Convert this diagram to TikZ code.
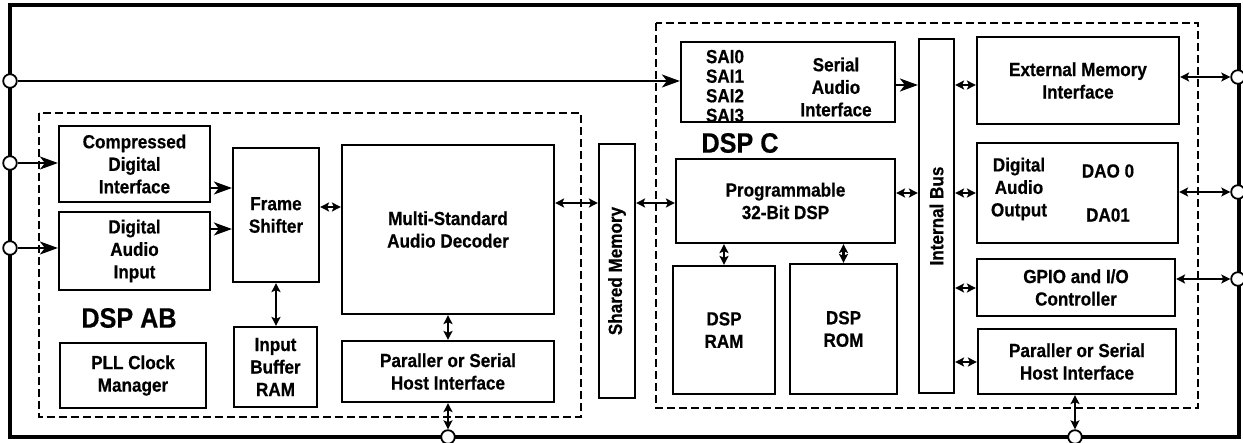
\documentclass[tikz,border=0pt]{standalone}
\usepackage{fontspec}
\usepackage{graphicx}
\setmainfont{Liberation Sans}[FakeStretch=0.9, BoldFeatures={FakeBold=0.5}]
\usetikzlibrary{arrows.meta}

\begin{document}
\begin{tikzpicture}[x=0.5pt, y=-0.5pt,
  blk/.style={draw, rectangle, line width=1.1pt, inner sep=0pt, align=center,
    font=\fontsize{9.5}{11.25}\selectfont\bfseries},
  txt/.style={inner sep=0pt, align=center, font=\fontsize{9.5}{11.25}\selectfont\bfseries},
  title/.style={inner sep=0pt, font=\fontsize{14}{16}\selectfont\bfseries},
  group/.style={draw, line width=0.75pt, dash pattern=on 4pt off 2pt},
  port/.style={draw, circle, fill=white, line width=0.9pt, minimum size=6.8pt, inner sep=0pt},
  sig/.style={line width=1.1pt, -{Stealth[length=9pt, width=6.5pt, inset=2.5pt]}},
  bus/.style={line width=1.1pt, {Stealth[length=4.5pt, width=4.5pt, inset=1pt]}-{Stealth[length=4.5pt, width=4.5pt, inset=1pt]}}]
\useasboundingbox (0,0) rectangle (1243,443);

% chip outline and the two DSP groups
\draw[line width=2pt] (9.5,5) rectangle (1239,437);
\draw[group] (39,113) rectangle (581,417);
\draw[group] (656,23) rectangle (1198,408);

% pins
\node[port] (pL1) at (10,81) {};
\node[port] (pL2) at (10,163) {};
\node[port] (pL3) at (10,248) {};
\node[port] (pB1) at (448,437) {};
\node[port] (pB2) at (1075,437) {};
\node[port] (pR1) at (1238,77) {};
\node[port] (pR2) at (1238,192) {};
\node[port] (pR3) at (1238,279) {};

% DSP AB
\node[blk, minimum width=75.5pt, minimum height=38pt] (cdi) at (134.5,164) {Compressed\\Digital\\Interface};
\node[blk, minimum width=75.5pt, minimum height=39pt] (dai) at (134.5,251) {Digital\\Audio\\Input};
\node[blk, minimum width=43pt, minimum height=67pt] (frame) at (276,215) {Frame\\Shifter};
\node[blk, minimum width=106pt, minimum height=84.5pt] (decoder) at (448,229.5) {Multi-Standard\\Audio Decoder};
\node[blk, minimum width=41.5pt, minimum height=40pt] (ibuf) at (275.5,367) {Input\\Buffer\\RAM};
\node[blk, minimum width=73pt, minimum height=32.5pt] (pll) at (133,375.5) {PLL Clock\\Manager};
\node[blk, minimum width=106pt, minimum height=30.5pt] (hostA) at (448,371.5) {Paraller or Serial\\Host Interface};
\node[title] (labAB) at (129,318) {DSP AB};

% shared memory
\node[blk, minimum width=18pt, minimum height=127pt] (shmem) at (617,271) {\rotatebox{90}{Shared Memory}};

% DSP C
\node[blk, minimum width=107pt, minimum height=40pt] (sai) at (788,82) {};
\node[txt, align=left, font=\fontsize{9.5}{9.8}\selectfont\bfseries] (saiN) at (725,86) {SAI0\\SAI1\\SAI2\\SAI3};
\node[txt] (saiT) at (836,87) {Serial\\Audio\\Interface};
\node[title] (labC) at (740,143) {DSP C};
\node[blk, minimum width=109.5pt, minimum height=42pt] (dsp) at (785.5,201) {Programmable\\32-Bit DSP};
\node[blk, minimum width=51pt, minimum height=64pt] (ram) at (724,330) {DSP\\RAM};
\node[blk, minimum width=53.5pt, minimum height=65pt] (rom) at (843.5,329) {DSP\\ROM};
\node[blk, minimum width=17.5pt, minimum height=177pt] (ibus) at (936.5,216) {\rotatebox{90}{Internal Bus}};
\node[blk, minimum width=101pt, minimum height=43.5pt] (emi) at (1078,80.5) {External Memory\\Interface};
\node[blk, minimum width=100.5pt, minimum height=50pt] (dao) at (1077.5,193) {};
\node[txt] (daoT) at (1019,189) {Digital\\Audio\\Output};
\node[txt] (dao0) at (1108,171) {DAO 0};
\node[txt] (dao1) at (1108,215) {DA01};
\node[blk, minimum width=99pt, minimum height=28.5pt] (gpio) at (1076,287.5) {GPIO and I/O\\Controller};
\node[blk, minimum width=99pt, minimum height=32.5pt] (hostC) at (1077,361.5) {Paraller or Serial\\Host Interface};

% inputs
\draw[sig] (pL1) -- (sai.west |- pL1);
\draw[sig] (pL2) -- (cdi.west |- pL2);
\draw[sig] (pL3) -- (dai.west |- pL3);
\draw[sig] (cdi.east |- 0,188) -- (frame.west |- 0,188);
\draw[sig] (dai.east |- 0,229) -- (frame.west |- 0,229);
\draw[sig] (sai.east |- 0,85) -- (ibus.west |- 0,85);

% two-way links
\draw[bus] (frame.east |- 0,207) -- (decoder.west |- 0,207);
\draw[bus] (frame.south) -- (frame.south |- ibuf.north);
\draw[bus] (decoder.south) -- (hostA.north);
\draw[bus] (hostA.south) -- (pB1);
\draw[bus] (decoder.east |- 0,203) -- (shmem.west |- 0,203);
\draw[bus] (shmem.east |- 0,203) -- (dsp.west |- 0,203);
\draw[bus] (ram.north |- dsp.south) -- (ram.north);
\draw[bus] (rom.north |- dsp.south) -- (rom.north);
\draw[bus] (ibus.east |- 0,85) -- (emi.west |- 0,85);
\draw[bus] (dsp.east |- 0,193) -- (ibus.west |- 0,193);
\draw[bus] (ibus.east |- 0,193) -- (dao.west |- 0,193);
\draw[bus] (ibus.east |- 0,288) -- (gpio.west |- 0,288);
\draw[bus] (ibus.east |- 0,362) -- (hostC.west |- 0,362);
\draw[bus] (emi.east |- pR1) -- (pR1);
\draw[bus] (dao.east |- pR2) -- (pR2);
\draw[bus] (gpio.east |- pR3) -- (pR3);
\draw[bus] (pB2 |- hostC.south) -- (pB2);
\end{tikzpicture}
\end{document}
